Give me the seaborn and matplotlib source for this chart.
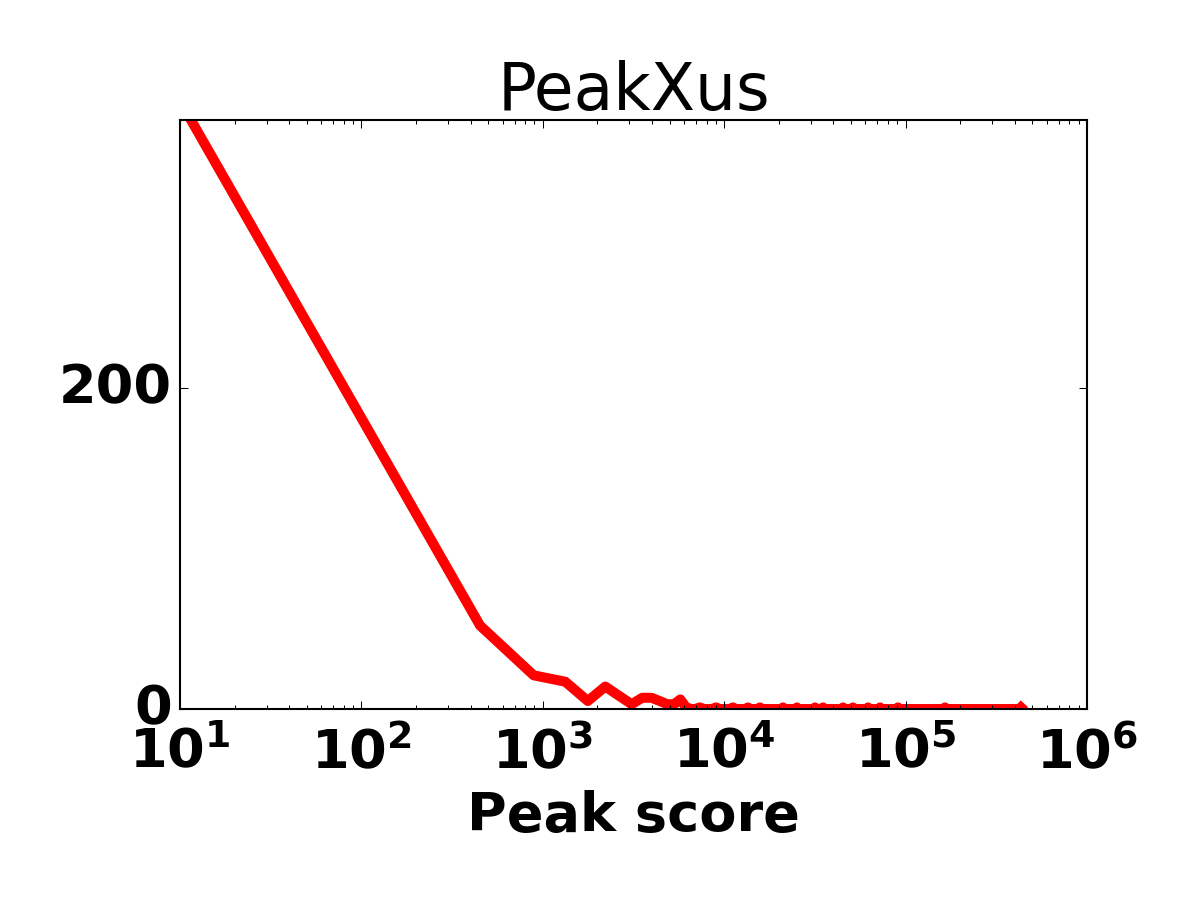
import matplotlib
matplotlib.use('Agg')
import matplotlib.pyplot as plt
import seaborn as sns

# Histogram of peak scores (bin positions and counts)
score = [11.5, 451, 891, 1331, 1771, 2211, 2651, 3091, 3531, 3971, 4411,
         4851, 5291, 5731, 6171, 6611,
         6900, 7340, 7780, 8570, 9010, 9450, 10730, 11170, 11610,
         13080, 13520, 13960, 15300, 15740, 16180, 20650, 21090, 21530,
         24750, 25190, 25630, 31240, 31680, 32120, 34640, 35080, 35520,
         44760, 45200, 45640, 50860, 51300, 51740, 61660, 62100, 62540,
         71860, 72300, 72740, 90360, 90800, 91240, 164360, 164800, 165240,
         425000, 433000]
count = [367, 52, 21, 17, 5, 14, 8, 3, 7, 7, 5,
         3, 3, 6, 1, 0,
         0, 1, 0, 0, 1, 0, 0, 1, 0,
         0, 1, 0, 0, 1, 0, 0, 1, 0,
         0, 1, 0, 0, 1, 0, 0, 1, 0,
         0, 1, 0, 0, 1, 0, 0, 1, 0,
         0, 1, 0, 0, 1, 0, 0, 1, 0,
         0, 1]

title = 'PeakXus'
xlabel = 'Peak score'

plt.style.use('classic')
plt.rcParams.update({
    'figure.facecolor': 'white',
    'savefig.facecolor': 'white',
    'font.family': ['DejaVu Sans'],
    'font.weight': 'bold',
    'font.size': 26,
    'mathtext.fontset': 'dejavusans',
    'mathtext.default': 'bf',
})

fig = plt.figure(figsize=(8, 6), dpi=150)
ax = fig.add_axes([0.15, 0.2122, 0.7558, 0.6544])
sns.lineplot(x=score, y=count, color='red', linewidth=4.8, ax=ax)
ax.set_xscale('log')
ax.set_xlim(10, 1e6)
ax.set_ylim(0, 367)
ax.set_yticks([0, 200])
ax.tick_params(axis='x', which='major', pad=8.5)
ax.set_title(title, fontsize=31, fontweight='normal')
ax.set_xlabel(xlabel, fontsize=26, fontweight='bold')
ax.set_ylabel('')
fig.savefig('out.png', dpi=150, facecolor='white')
